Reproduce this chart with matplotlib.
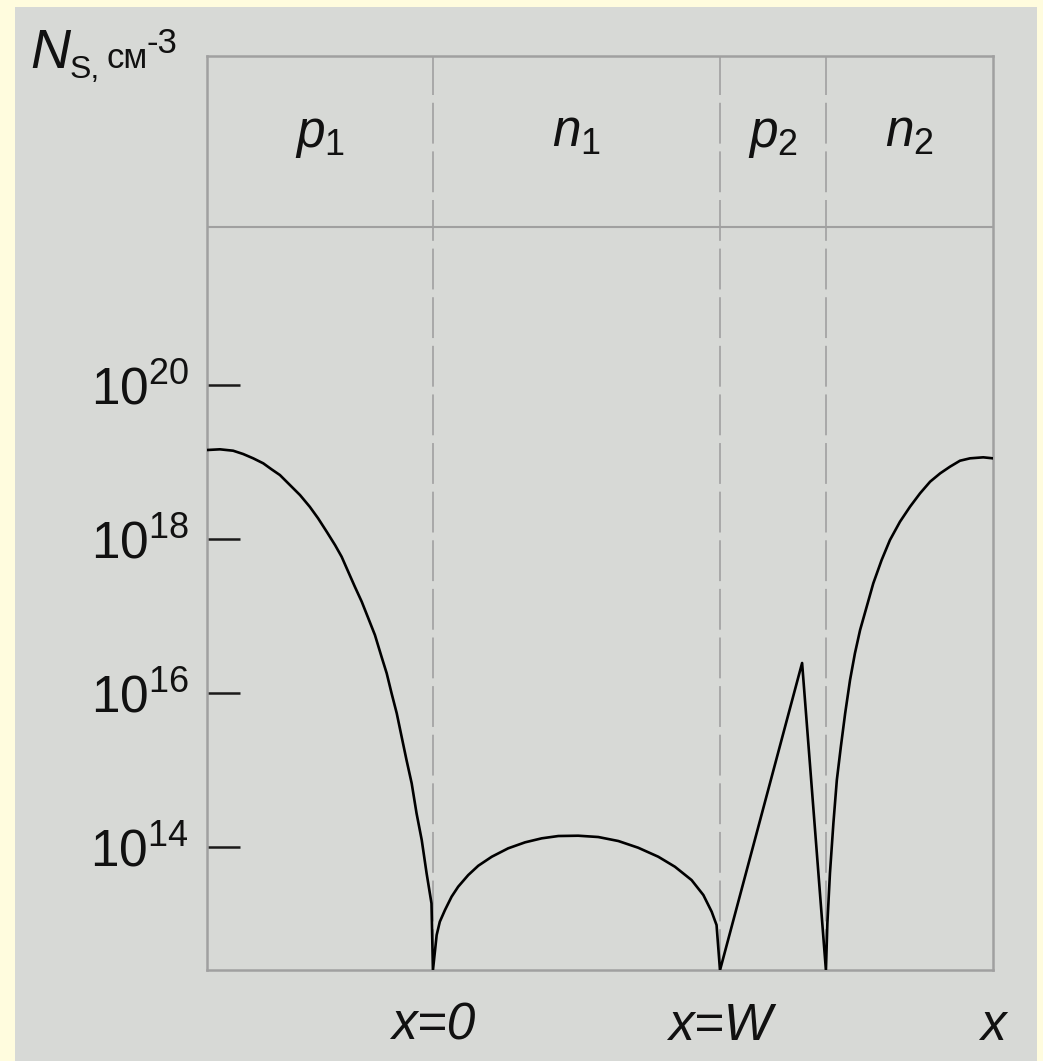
import matplotlib
matplotlib.use("Agg")
import matplotlib.pyplot as plt
import matplotlib.transforms as mtransforms
from matplotlib.patches import Rectangle
from matplotlib.ticker import NullLocator
import numpy as np

plt.rcParams['font.family'] = ['Liberation Sans', 'DejaVu Sans']
plt.rcParams['mathtext.fontset'] = 'custom'
plt.rcParams['mathtext.rm'] = 'Liberation Sans'
plt.rcParams['mathtext.it'] = 'Liberation Sans:italic'
plt.rcParams['mathtext.bf'] = 'Liberation Sans:bold'

# ---- data (x in units of W, x=0 at the p1/n1 junction); log10 of N_S ----
x_p1 = [-0.787, -0.742, -0.696, -0.661, -0.626, -0.591, -0.562, -0.533, -0.498,
        -0.463, -0.429, -0.400, -0.370, -0.341, -0.318, -0.295, -0.272, -0.248,
        -0.225, -0.202, -0.179, -0.161, -0.144, -0.126, -0.109, -0.092, -0.074,
        -0.057, -0.039, -0.022, -0.005, 0.0]
log_p1 = [19.156, 19.165, 19.147, 19.104, 19.048, 18.983, 18.905, 18.831, 18.701,
          18.571, 18.419, 18.269, 18.095, 17.922, 17.770, 17.575, 17.381, 17.186,
          16.970, 16.753, 16.471, 16.256, 15.996, 15.736, 15.432, 15.130, 14.827,
          14.437, 14.091, 13.658, 13.268, 12.40]

x_n1 = [0.0, 0.013, 0.024, 0.042, 0.065, 0.088, 0.123, 0.158, 0.205, 0.262, 0.321,
        0.379, 0.437, 0.506, 0.576, 0.646, 0.715, 0.785, 0.843, 0.901, 0.942,
        0.971, 0.988, 1.0]
log_n1 = [12.40, 12.857, 13.030, 13.182, 13.355, 13.485, 13.636, 13.757, 13.874,
          13.983, 14.061, 14.113, 14.143, 14.147, 14.130, 14.078, 13.991, 13.874,
          13.744, 13.571, 13.377, 13.160, 12.987, 12.40]

x_p2 = [1.0, 1.286, 1.369]
log_p2 = [12.40, 16.39, 12.40]

x_n2 = [1.369, 1.374, 1.383, 1.395, 1.407, 1.421, 1.436, 1.453, 1.470, 1.488,
        1.511, 1.534, 1.563, 1.592, 1.627, 1.662, 1.697, 1.732, 1.767, 1.801,
        1.836, 1.871, 1.917, 1.951]
log_n2 = [12.40, 13.008, 13.658, 14.308, 14.870, 15.303, 15.736, 16.169, 16.515,
          16.818, 17.121, 17.425, 17.727, 17.987, 18.225, 18.420, 18.594, 18.745,
          18.853, 18.939, 19.017, 19.048, 19.061, 19.048]

junctions = [0.0, 1.0, 1.369]
region_labels = [r'$p_1$', r'$n_1$', r'$p_2$', r'$n_2$']
ytick_vals = [1e14, 1e16, 1e18, 1e20]
ytick_labels = [r'$10^{14}$', r'$10^{16}$', r'$10^{18}$', r'$10^{20}$']
xtick_vals = [0.0, 1.0, 1.951]
xtick_labels = ['x=0', 'x=W', 'x']
header_level = 10 ** 22.05

W, H = 1043, 1061
fig = plt.figure(figsize=(W / 100, H / 100), dpi=100, facecolor='#fffcde')
panel = Rectangle((15 / W, 0), (1037 - 15) / W, (H - 7) / H,
                  transform=fig.transFigure, facecolor='#d7d9d6',
                  edgecolor='none', zorder=-10)
fig.add_artist(panel)

ax = fig.add_axes([207 / W, 1 - 970 / H, (993 - 207) / W, (970 - 56) / H])
ax.set_zorder(1)
ax.set_facecolor('#d7d9d6')
ax.set_yscale('log')
ax.set_xlim(-0.787, 1.951)
ax.set_ylim(10 ** 12.403, 10 ** 24.273)

for s in ax.spines.values():
    s.set_color('#a0a0a0')
    s.set_linewidth(1.8)

x_all = x_p1 + x_n1[1:] + x_p2[1:] + x_n2[1:]
log_all = log_p1 + log_n1[1:] + log_p2[1:] + log_n2[1:]
ax.plot(x_all, 10 ** np.array(log_all), color='black', lw=1.9, zorder=3,
        solid_joinstyle='round')

for j in junctions:
    ax.axvline(j, color='#a8a8a8', lw=1.4, linestyle=(0, (21, 4)), zorder=2)
ax.axhline(header_level, color='#a0a0a0', lw=1.5, zorder=2)

ax.set_yticks(ytick_vals)
ax.set_yticklabels(ytick_labels)
ax.yaxis.set_minor_locator(NullLocator())
ax.tick_params(axis='y', direction='in', length=24, width=1.8, color='#1a1a1a',
               pad=13, labelsize=37, labelcolor='#111111')

ax.set_xticks(xtick_vals)
ax.set_xticklabels(xtick_labels, fontstyle='italic')
ax.tick_params(axis='x', length=0, pad=23, labelsize=37, labelcolor='#111111')

# region labels
bounds = [ax.get_xlim()[0]] + junctions + [ax.get_xlim()[1]]
trans = mtransforms.blended_transform_factory(ax.transData, ax.transAxes)
for i, lab in enumerate(region_labels):
    cx = 0.5 * (bounds[i] + bounds[i + 1])
    ax.text(cx, (970 - 147) / 914, lab, transform=trans, ha='center',
            va='baseline', fontsize=37, color='#111111')

# y axis title: N_S, см^-3
def fx(px):
    return px / W

def fy(py):
    return 1 - py / H

fig.text(fx(30), fy(68), 'N', fontsize=40, fontstyle='italic', va='baseline',
         ha='left', color='#111111', zorder=5)
fig.text(fx(70), fy(78), 'S,', fontsize=23, va='baseline', ha='left', color='#111111', zorder=5)
fig.text(fx(106), fy(68), 'см', fontsize=25, va='baseline', ha='left', color='#111111', zorder=5)
fig.text(fx(146), fy(53), '-3', fontsize=25, va='baseline', ha='left', color='#111111', zorder=5)

fig.savefig('out.png', dpi=100, facecolor=fig.get_facecolor())
